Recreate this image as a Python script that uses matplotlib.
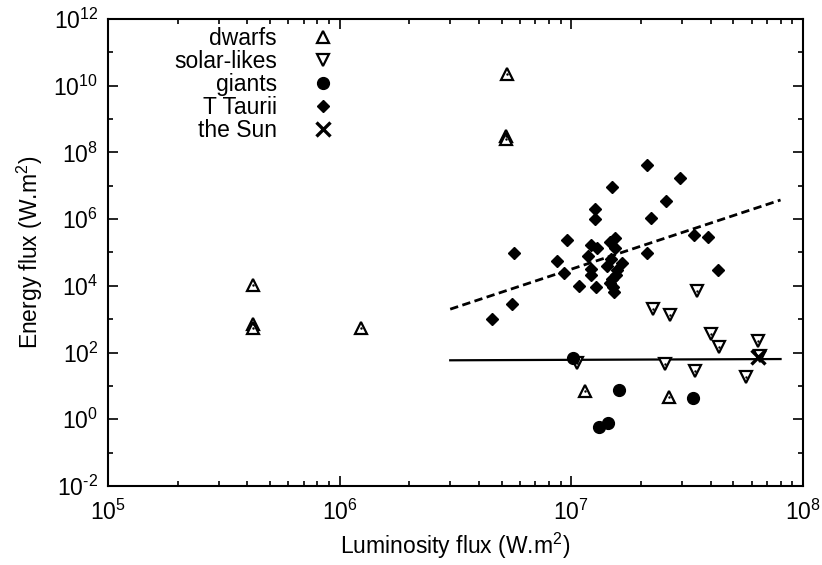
import matplotlib
matplotlib.use("Agg")
import matplotlib.pyplot as plt
import numpy as np
from matplotlib.ticker import LogLocator, NullFormatter, FuncFormatter

plt.rcParams['font.family'] = ['Liberation Sans', 'DejaVu Sans']
plt.rcParams['mathtext.fontset'] = 'custom'
plt.rcParams['mathtext.rm'] = 'Liberation Sans'
plt.rcParams['mathtext.it'] = 'Liberation Sans:italic'
plt.rcParams['mathtext.bf'] = 'Liberation Sans:bold'
plt.rcParams['axes.unicode_minus'] = False

# ---- data ----
dwarfs_x = [5.27e6, 5.2e6, 5.2e6, 4.24e5, 4.24e5, 4.24e5, 1.23e6, 1.14e7, 2.63e7]
dwarfs_y = [2.2e10, 3.1e8, 2.6e8, 1.05e4, 7.0e2, 5.6e2, 5.6e2, 7.1, 4.8]

solar_x = [3.5e7, 2.25e7, 2.67e7, 3.99e7, 4.32e7, 6.4e7, 1.06e7, 2.53e7, 3.41e7, 5.7e7, 6.5e7]
solar_y = [7.2e3, 2.0e3, 1.34e3, 3.6e2, 1.5e2, 2.3e2, 50, 46, 28, 19, 80]

giants_x = [1.02e7, 1.61e7, 3.36e7, 1.31e7, 1.44e7]
giants_y = [67, 7.6, 4.4, 0.59, 0.76]

ttauri_x = [2.13e7, 2.94e7, 1.50e7, 2.56e7, 1.26e7, 1.26e7, 2.20e7, 5.67e6, 9.6e6, 3.4e7,
            3.9e7, 2.13e7, 4.3e7, 8.65e6, 9.3e6, 1.08e7, 1.28e7, 1.18e7, 1.21e7, 1.29e7,
            1.22e7, 1.21e7, 1.47e7, 1.54e7, 1.55e7, 1.49e7, 1.43e7, 1.65e7, 1.58e7, 1.56e7,
            1.47e7, 1.52e7, 1.53e7, 5.56e6, 4.53e6, 1.50e7]
ttauri_y = [4.1e7, 1.68e7, 9.4e6, 3.5e6, 2.0e6, 9.9e5, 1.08e6, 9.9e4, 2.3e5, 3.4e5,
            2.9e5, 9.5e4, 3.0e4, 5.7e4, 2.4e4, 1.0e4, 9.4e3, 7.9e4, 1.7e5, 1.34e5,
            3.2e4, 2.1e4, 2.1e5, 2.7e5, 1.34e5, 6.3e4, 3.9e4, 4.8e4, 3.0e4, 2.1e4,
            1.2e4, 9.4e3, 6.7e3, 2.8e3, 9.95e2, 1.6e4]

sun_x = [6.4e7]
sun_y = [72]

fit_x = [3.0e6, 8.0e7]
fit_tt_y = [2.0e3, 3.75e6]
fit_all_y = [58.7, 64.0]

# ---- figure ----
fig = plt.figure(figsize=(8.22, 5.65), dpi=100)
ax = fig.add_axes([0.1314, 0.1398, 0.9769 - 0.1314, 0.9664 - 0.1398])
ax.set_xscale('log')
ax.set_yscale('log')
ax.set_xlim(1e5, 1e8)
ax.set_ylim(1e-2, 1e12)

ax.plot(fit_x, fit_tt_y, color='black', lw=2.0, ls=(0, (3, 1.6)), zorder=2)
ax.plot(fit_x, fit_all_y, color='black', lw=1.6, ls='-', zorder=2)

ax.plot(dwarfs_x, dwarfs_y, ls='none', marker='^', ms=8.5, mfc='white', mec='black', mew=1.6,
        label='dwarfs', zorder=3)
ax.plot(dwarfs_x, dwarfs_y, ls='none', marker='.', ms=1.5, color='black', zorder=4)
ax.plot(solar_x, solar_y, ls='none', marker='v', ms=8.5, mfc='white', mec='black', mew=1.6,
        label='solar-likes', zorder=3)
ax.plot(solar_x, solar_y, ls='none', marker='.', ms=1.5, color='black', zorder=4)
ax.plot(giants_x, giants_y, ls='none', marker='o', ms=8.5, color='black', label='giants', zorder=5)
ax.plot(ttauri_x, ttauri_y, ls='none', marker='D', ms=5.8, color='black', label='T Taurii', zorder=3)
ax.plot(sun_x, sun_y, ls='none', marker='x', ms=10, mew=2.4, color='black', label='the Sun', zorder=6)


def pow_fmt(v, pos):
    e = int(round(np.log10(v)))
    if e < 0:
        return r'$\mathdefault{10^{\text{-}%d}}$' % (-e)
    return r'$\mathdefault{10^{%d}}$' % e


ax.xaxis.set_major_locator(LogLocator(base=10, numticks=10))
ax.xaxis.set_major_formatter(FuncFormatter(pow_fmt))
ax.xaxis.set_minor_locator(LogLocator(base=10, subs=np.arange(2, 10), numticks=20))
ax.xaxis.set_minor_formatter(NullFormatter())
ax.yaxis.set_major_locator(LogLocator(base=100, numticks=20))
ax.yaxis.set_major_formatter(FuncFormatter(pow_fmt))
ax.yaxis.set_minor_locator(LogLocator(base=10, subs=[1.0], numticks=30))
ax.yaxis.set_minor_formatter(NullFormatter())

FS = 16.5
ax.tick_params(which='both', direction='in', top=True, right=True, width=1.2, labelsize=FS)
ax.tick_params(which='major', length=7)
ax.tick_params(axis='x', which='major', pad=10)
ax.tick_params(axis='y', which='major', pad=7)
ax.tick_params(which='minor', length=3.5)
for s in ax.spines.values():
    s.set_linewidth(1.5)

ax.set_xlabel('Luminosity flux (W.m$^2$)', fontsize=FS, labelpad=4)
ax.set_ylabel('Energy flux (W.m$^2$)', fontsize=FS, labelpad=6)

leg = ax.legend(loc='upper left', bbox_to_anchor=(0.075, 1.012), frameon=False, markerfirst=False,
                fontsize=FS, handlelength=1.0, handletextpad=1.5, labelspacing=0.0,
                borderaxespad=0.2)
try:
    col = leg._legend_box._children[-1]._children[0]
    col.align = 'right'
except Exception:
    pass

fig.savefig('out.png', dpi=100)
